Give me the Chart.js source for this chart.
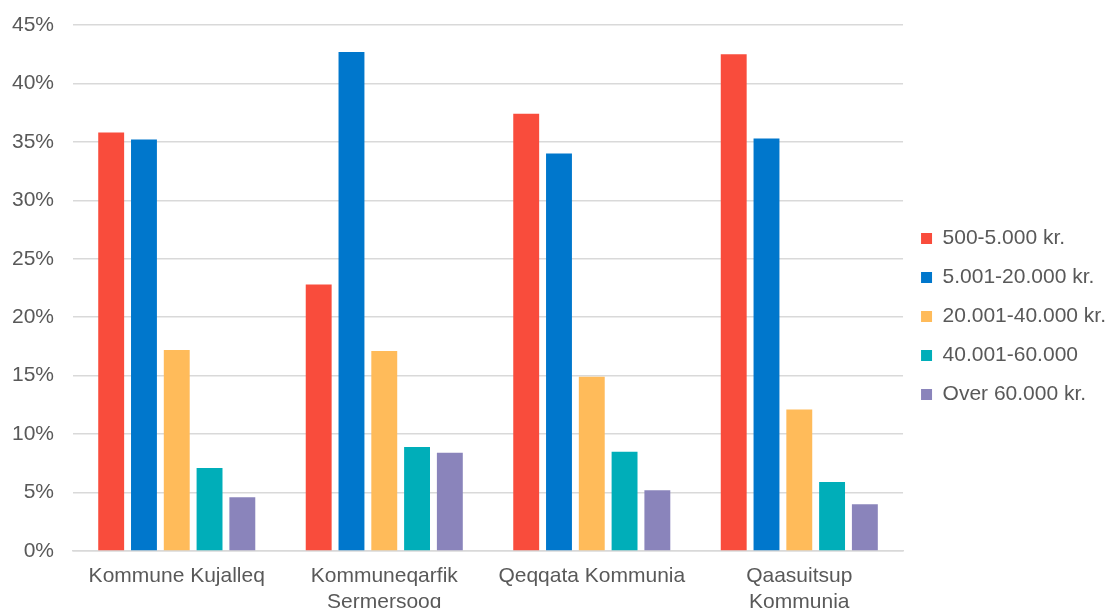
<!DOCTYPE html>
<html>
<head>
<meta charset="utf-8">
<title>Indkomstfordeling pr. kommune</title>
<script src="https://cdn.jsdelivr.net/npm/chart.js@4.4.1/dist/chart.umd.min.js"></script>
<style>
    html, body { margin: 0; padding: 0; background: #ffffff; }
    #wrap { width: 1112px; height: 608px; }
</style>
</head>
<body>
<div id="wrap"><canvas id="incomeChart"></canvas></div>
<script>
// Andel (%) af modtagere fordelt på beløbsgruppe, pr. kommune
const municipalities = [
    "Kommune Kujalleq",
    ["Kommuneqarfik", "Sermersooq"],
    "Qeqqata Kommunia",
    ["Qaasuitsup", "Kommunia"]
];

const band500to5000 = [35.8, 22.8, 37.4, 42.5];
const band5001to20000 = [35.2, 42.7, 34.0, 35.3];
const band20001to40000 = [17.2, 17.1, 14.9, 12.1];
const band40001to60000 = [7.1, 8.9, 8.5, 5.9];
const bandOver60000 = [4.6, 8.4, 5.2, 4.0];

const bandLabels = [
    "500-5.000 kr.",
    "5.001-20.000 kr.",
    "20.001-40.000 kr.",
    "40.001-60.000",
    "Over 60.000 kr."
];

const yTicks = [0, 5, 10, 15, 20, 25, 30, 35, 40, 45];

const bandColors = ["#f94c3c", "#0077cc", "#ffbb5a", "#00aeb9", "#8a84bb"];
const bandValues = [band500to5000, band5001to20000, band20001to40000, band40001to60000, bandOver60000];

const TEXT_COLOR = "#595959";
const GRID_COLOR = "#d9d9d9";
const FONT = { family: "'Liberation Sans', Arial, sans-serif", size: 21 };

function buildDatasets() {
    return bandLabels.map((label, i) => ({
        label,
        data: bandValues[i],
        backgroundColor: bandColors[i],
        borderWidth: 0,
        categoryPercentage: 0.79,
        barPercentage: 0.79
    }));
}

new Chart(document.getElementById("incomeChart"), {
    type: "bar",
    data: {
        labels: municipalities,
        datasets: buildDatasets()
    },
    options: {
        responsive: true,
        maintainAspectRatio: false,
        animation: false,
        layout: {
            padding: { top: 25, right: -4, bottom: 0, left: 0 }
        },
        plugins: {
            legend: {
                position: "right",
                labels: {
                    color: TEXT_COLOR,
                    font: FONT,
                    boxWidth: 11,
                    boxHeight: 11,
                    padding: 18
                }
            },
            tooltip: { enabled: false }
        },
        scales: {
            x: {
                grid: { display: false, drawTicks: false },
                border: { display: true, color: GRID_COLOR, width: 1.5 },
                ticks: {
                    color: TEXT_COLOR,
                    font: FONT,
                    padding: 13,
                    maxRotation: 0,
                    autoSkip: false
                },
                afterFit: (scale) => { scale.height = 57; }
            },
            y: {
                min: 0,
                max: 45,
                afterBuildTicks: (scale) => {
                    scale.ticks = yTicks.map((v) => ({ value: v }));
                },
                grid: { color: GRID_COLOR, lineWidth: 1.5, drawTicks: false },
                border: { display: false },
                ticks: {
                    color: TEXT_COLOR,
                    font: FONT,
                    padding: 19,
                    callback: (v) => `${v}%`
                },
                afterFit: (scale) => {
                    scale.width = 73;
                    scale.paddingTop = 0;
                    scale.paddingBottom = 0;
                }
            }
        }
    }
});
</script>
</body>
</html>
